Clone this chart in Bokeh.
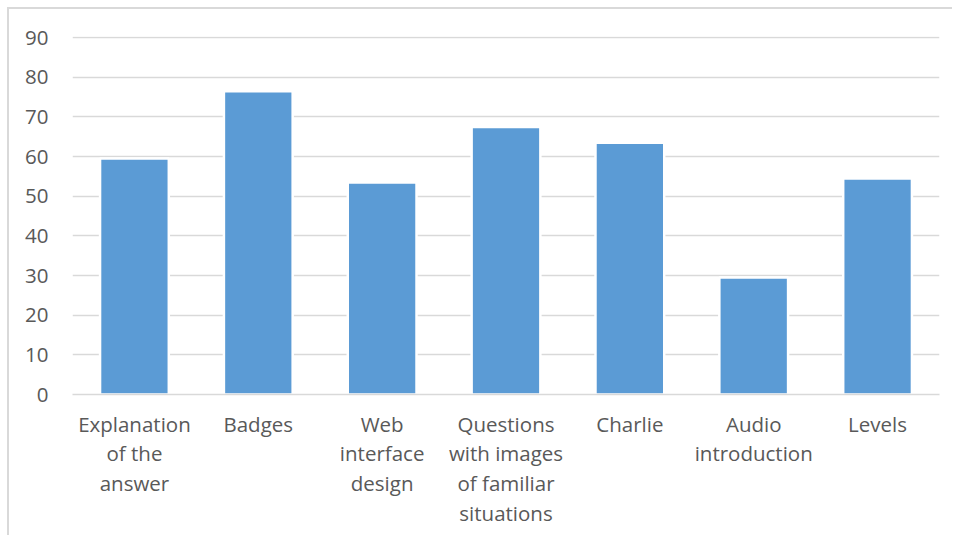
from bokeh.plotting import figure
from bokeh.models import Range1d, FixedTicker, ColumnDataSource
from bokeh.embed import file_html
from bokeh.resources import INLINE

# Survey results per feature
categories = [
    "Explanation\nof the\nanswer",
    "Badges",
    "Web\ninterface\ndesign",
    "Questions\nwith images\nof familiar\nsituations",
    "Charlie",
    "Audio\nintroduction",
    "Levels",
]
values = [59.5, 76.5, 53.5, 67.5, 63.5, 29.5, 54.5]
y_ticks = [0, 10, 20, 30, 40, 50, 60, 70, 80, 90]

FONT = "Open Sans"
TEXT_COLOR = "#595959"
GRID_COLOR = "#D9D9D9"
BAR_COLOR = "#5B9BD5"

source = ColumnDataSource(data=dict(cat=categories, val=values))

# The figure sits inside a light chart-area border drawn on its top and left
OFF = 9
p = figure(
    x_range=categories,
    y_range=Range1d(0, 90.3),
    width=954 - OFF,
    height=537 - OFF,
    output_backend="svg",
    toolbar_location=None,
    min_border_left=72 - OFF,
    min_border_right=15,
    min_border_top=36 - OFF,
    min_border_bottom=143,
    styles={
        "margin-left": "7px",
        "margin-top": "7px",
        "border-left": "2px solid #D9D9D9",
        "border-top": "2px solid #D9D9D9",
    },
)
p.outline_line_color = None
p.background_fill_color = "white"
p.border_fill_color = "white"

p.vbar(x="cat", top="val", width=0.555, source=source,
       fill_color=BAR_COLOR, line_color="white", line_width=2.5)

# Axes
p.yaxis.ticker = FixedTicker(ticks=y_ticks)
p.yaxis.axis_line_color = None
p.yaxis.major_tick_line_color = None
p.yaxis.minor_tick_line_color = None
p.yaxis.major_label_standoff = 18
p.yaxis.major_label_text_font = FONT
p.yaxis.major_label_text_font_size = "20.5px"
p.yaxis.major_label_text_color = TEXT_COLOR

p.xaxis.axis_line_color = GRID_COLOR
p.xaxis.axis_line_width = 1.5
p.xaxis.major_tick_line_color = None
p.xaxis.minor_tick_line_color = None
p.xaxis.major_label_standoff = 9
p.xaxis.major_label_text_font = FONT
p.xaxis.major_label_text_font_size = "20.5px"
p.xaxis.major_label_text_line_height = 1.06
p.xaxis.major_label_text_color = TEXT_COLOR
p.xaxis.major_label_orientation = "horizontal"

p.xgrid.grid_line_color = None
p.ygrid.grid_line_color = GRID_COLOR
p.ygrid.grid_line_width = 1.5

open("out.html", "w").write(file_html(p, INLINE))
